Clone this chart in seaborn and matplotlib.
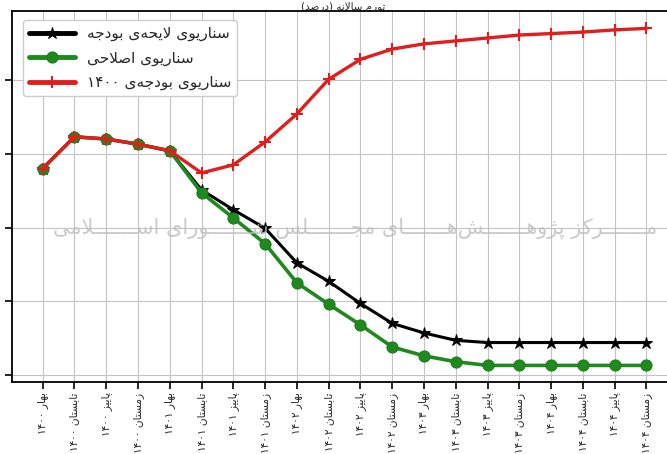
import re
import seaborn as sns
import matplotlib.pyplot as plt
import pandas as pd

# Persian text must be shaped by hand: matplotlib has no Arabic shaping / bidi
FORMS = {  # isolated, final, initial, medial
    'ا': (0xFE8D, 0xFE8E, None, None),
    'ب': (0xFE8F, 0xFE90, 0xFE91, 0xFE92),
    'پ': (0xFB56, 0xFB57, 0xFB58, 0xFB59),
    'ت': (0xFE95, 0xFE96, 0xFE97, 0xFE98),
    'ج': (0xFE9D, 0xFE9E, 0xFE9F, 0xFEA0),
    'ح': (0xFEA1, 0xFEA2, 0xFEA3, 0xFEA4),
    'د': (0xFEA9, 0xFEAA, None, None),
    'ر': (0xFEAD, 0xFEAE, None, None),
    'ز': (0xFEAF, 0xFEB0, None, None),
    'ژ': (0xFB8A, 0xFB8B, None, None),
    'س': (0xFEB1, 0xFEB2, 0xFEB3, 0xFEB4),
    'ش': (0xFEB5, 0xFEB6, 0xFEB7, 0xFEB8),
    'ص': (0xFEB9, 0xFEBA, 0xFEBB, 0xFEBC),
    'ک': (0xFB8E, 0xFB8F, 0xFB90, 0xFB91),
    'ل': (0xFEDD, 0xFEDE, 0xFEDF, 0xFEE0),
    'م': (0xFEE1, 0xFEE2, 0xFEE3, 0xFEE4),
    'ن': (0xFEE5, 0xFEE6, 0xFEE7, 0xFEE8),
    'ه': (0xFEE9, 0xFEEA, 0xFEEB, 0xFEEC),
    'و': (0xFEED, 0xFEEE, None, None),
    'ی': (0xFBFC, 0xFBFD, 0xFBFE, 0xFBFF),
}
TATWEEL = 'ـ'


def joins_fwd(ch):
    return ch == TATWEEL or (ch in FORMS and FORMS[ch][2] is not None)


def is_letter(ch):
    return ch == TATWEEL or ch in FORMS


def fa(text):
    out, i, n = [], 0, len(text)
    while i < n:
        c = text[i]
        prev = i > 0 and joins_fwd(text[i - 1])
        if c == 'ل' and i + 1 < n and text[i + 1] == 'ا':
            out.append(chr(0xFEFC if prev else 0xFEFB))
            i += 2
            continue
        if c == '\u200c':
            i += 1
            continue
        if c not in FORMS:
            out.append(c)
            i += 1
            continue
        iso, fin, ini, med = FORMS[c]
        nxt = ini is not None and i + 1 < n and is_letter(text[i + 1])
        if prev and nxt:
            out.append(chr(med))
        elif nxt:
            out.append(chr(ini))
        elif prev:
            out.append(chr(fin))
        else:
            out.append(chr(iso))
        i += 1
    s = ''.join(out)[::-1]
    s = re.sub('[۰-۹0-9]+', lambda m: m.group(0)[::-1], s)
    return s.translate(str.maketrans('()', ')('))


# Data (annual inflation, percent)
seasons = ['بهار', 'تابستان', 'پاییز', 'زمستان']
years = ['۱۴۰۰', '۱۴۰۱', '۱۴۰۲', '۱۴۰۳', '۱۴۰۴']
quarters = [f'{s} {y}' for y in years for s in seasons]

budget_bill = [38.0, 42.3, 42.0, 41.3, 40.4, 35.1, 32.4, 29.9, 25.2, 22.7,
               19.7, 17.0, 15.7, 14.7, 14.4, 14.4, 14.4, 14.4, 14.4, 14.4]
reform = [38.0, 42.3, 42.0, 41.3, 40.4, 34.7, 31.3, 27.8, 22.5, 19.6,
          16.8, 13.8, 12.6, 11.8, 11.3, 11.3, 11.3, 11.3, 11.3, 11.3]
budget_1400 = [38.0, 42.3, 42.0, 41.3, 40.4, 37.4, 38.5, 41.6, 45.4, 50.1,
               52.8, 54.2, 54.9, 55.3, 55.7, 56.1, 56.3, 56.5, 56.8, 57.0]

series_names = ['سناریوی لایحه‌ی بودجه', 'سناریوی اصلاحی', 'سناریوی بودجه‌ی ۱۴۰۰']
title = 'تورم سالانه (درصد)'
watermark = 'مـــــــرکز پژوهـــــــش‌هـــــــای مجـــــــلس شـــــــورای اســـــــلامی'

df = pd.DataFrame({'idx': range(len(quarters)),
                   'bill': budget_bill, 'reform': reform, 'b1400': budget_1400})

sns.set_style('ticks', {'axes.grid': True, 'grid.color': '#c4c4c4',
                        'axes.edgecolor': 'black'})
plt.rcParams['font.family'] = ['DejaVu Sans']

fig = plt.figure(figsize=(6.67, 4.54), dpi=100)
ax = fig.add_axes([12.3 / 667, 72 / 454, 659.5 / 667, 371 / 454])

sns.lineplot(data=df, x='idx', y='bill', ax=ax, color='black', linewidth=2.2,
             marker='*', markersize=9, markeredgecolor='black',
             label=fa(series_names[0]))
sns.lineplot(data=df, x='idx', y='reform', ax=ax, color='#1e8a1e', linewidth=2.6,
             marker='o', markersize=8, markeredgecolor='#1e7a1e',
             label=fa(series_names[1]))
sns.lineplot(data=df, x='idx', y='b1400', ax=ax, color='#e01e1e', linewidth=2.4,
             marker='+', markersize=9, markeredgewidth=1.5,
             markeredgecolor='#e01e1e', label=fa(series_names[2]))

ax.set_xlim(-0.957, 19.8)
ax.set_ylim(9.05, 59.36)
ax.set_xticks(df['idx'])
ax.set_xticklabels([fa(q) for q in quarters], rotation=90, fontsize=7.6)
ax.set_yticks([10, 20, 30, 40, 50])
ax.set_yticklabels([])
ax.set_xlabel('')
ax.set_ylabel('')
ax.tick_params(length=5, width=1.2, color='black')
ax.tick_params(axis='x', pad=2.5)
for sp in ax.spines.values():
    sp.set_linewidth(1.3)

# title sits in the thin strip above the axes
fig.text(0.515, 1 - 11.5 / 454, fa(title), ha='center', va='bottom', fontsize=7.5)

ax.text(0.52, 0.415, fa(watermark), transform=ax.transAxes, ha='center',
        va='center', fontsize=15, color='#bdbdbd', alpha=0.8, zorder=5)

leg = ax.legend(loc='upper left', fontsize=11, handlelength=3.0,
                borderpad=0.4, labelspacing=0.6, framealpha=1,
                borderaxespad=0, bbox_to_anchor=(0.0158, 0.976))
for h in leg.get_lines():
    h.set_linewidth(3.5)

fig.savefig('out.png', dpi=100)
